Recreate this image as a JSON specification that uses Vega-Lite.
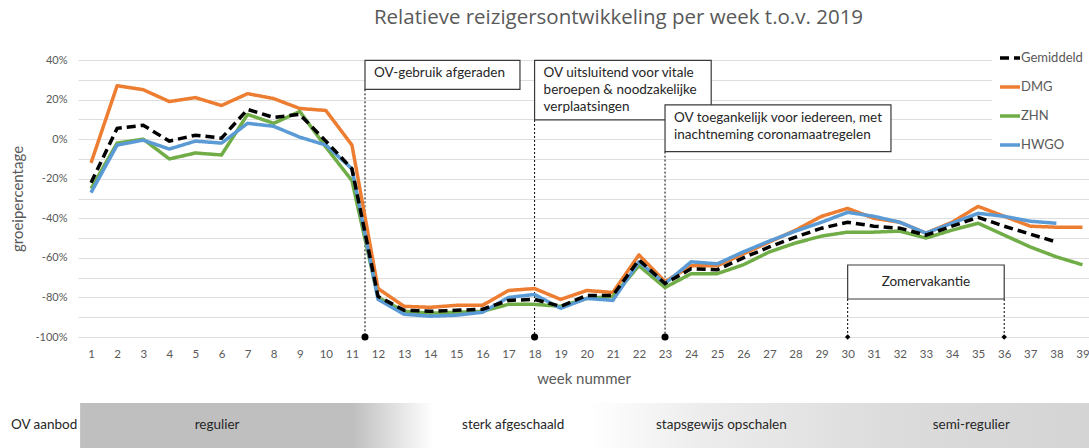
{
  "$schema": "https://vega.github.io/schema/vega-lite/v6.json",
  "width": 1011,
  "height": 277,
  "autosize": {"type": "none"},
  "padding": {"left": 78, "top": 60, "right": 0, "bottom": 111},
  "background": "white",
  "title": {"text": "Relatieve reizigersontwikkeling per week t.o.v. 2019", "font": "Open Sans", "fontSize": 20.5, "fontWeight": "normal", "color": "#595959", "anchor": "middle", "dx": 35, "offset": 12, "frame": "group"},
  "config": {
    "view": {"stroke": null},
    "font": "Lato",
    "axis": {"domain": false, "ticks": false, "labelFont": "Lato", "labelColor": "#595959", "titleFont": "Lato", "titleFontSize": 15, "titleFontWeight": "normal", "titleColor": "#595959"},
    "axisX": {"grid": false, "labelFontSize": 11.5, "labelPadding": 11, "titlePadding": 12, "labelFlush": false, "labelOverlap": false, "labelBound": false},
    "axisY": {"grid": true, "gridColor": "#dedede", "gridWidth": 1, "labelFontSize": 11, "labelPadding": 11, "titlePadding": 9, "labelOverlap": false}
  },
  "datasets": {
    "reeks": [
      {"week": 1, "Gemiddeld": -22, "DMG": -12, "ZHN": -25, "HWGO": -27},
      {"week": 2, "Gemiddeld": 5.5, "DMG": 27, "ZHN": -2, "HWGO": -3},
      {"week": 3, "Gemiddeld": 7, "DMG": 25, "ZHN": 0, "HWGO": -0.5},
      {"week": 4, "Gemiddeld": -1, "DMG": 19, "ZHN": -10, "HWGO": -5},
      {"week": 5, "Gemiddeld": 2, "DMG": 21, "ZHN": -7, "HWGO": -1},
      {"week": 6, "Gemiddeld": 0.5, "DMG": 17, "ZHN": -8, "HWGO": -2},
      {"week": 7, "Gemiddeld": 15, "DMG": 23, "ZHN": 12.5, "HWGO": 8},
      {"week": 8, "Gemiddeld": 11, "DMG": 20.5, "ZHN": 8, "HWGO": 6.5},
      {"week": 9, "Gemiddeld": 12.5, "DMG": 15.5, "ZHN": 14, "HWGO": 1},
      {"week": 10, "Gemiddeld": -1, "DMG": 14.5, "ZHN": -4, "HWGO": -3},
      {"week": 11, "Gemiddeld": -15, "DMG": -3, "ZHN": -21, "HWGO": -15},
      {"week": 12, "Gemiddeld": -79.5, "DMG": -75.5, "ZHN": -80, "HWGO": -81},
      {"week": 13, "Gemiddeld": -86.5, "DMG": -84.5, "ZHN": -87, "HWGO": -88.5},
      {"week": 14, "Gemiddeld": -87, "DMG": -85, "ZHN": -88, "HWGO": -89.5},
      {"week": 15, "Gemiddeld": -86.5, "DMG": -84, "ZHN": -87.5, "HWGO": -89},
      {"week": 16, "Gemiddeld": -86, "DMG": -84, "ZHN": -87, "HWGO": -87.5},
      {"week": 17, "Gemiddeld": -81.5, "DMG": -76.5, "ZHN": -83.5, "HWGO": -80},
      {"week": 18, "Gemiddeld": -81, "DMG": -75.5, "ZHN": -83.5, "HWGO": -78.5},
      {"week": 19, "Gemiddeld": -84.5, "DMG": -81, "ZHN": -84.5, "HWGO": -85.5},
      {"week": 20, "Gemiddeld": -79, "DMG": -76.5, "ZHN": -80.5, "HWGO": -80.5},
      {"week": 21, "Gemiddeld": -79, "DMG": -77.5, "ZHN": -79.5, "HWGO": -81.5},
      {"week": 22, "Gemiddeld": -61, "DMG": -58.5, "ZHN": -64, "HWGO": -62},
      {"week": 23, "Gemiddeld": -73, "DMG": -72, "ZHN": -75, "HWGO": -73},
      {"week": 24, "Gemiddeld": -65.5, "DMG": -64, "ZHN": -68, "HWGO": -62},
      {"week": 25, "Gemiddeld": -66, "DMG": -64, "ZHN": -68, "HWGO": -63},
      {"week": 26, "Gemiddeld": -60, "DMG": -58, "ZHN": -63.5, "HWGO": -57},
      {"week": 27, "Gemiddeld": -54.5, "DMG": -52, "ZHN": -57, "HWGO": -51.5},
      {"week": 28, "Gemiddeld": -49.5, "DMG": -46, "ZHN": -52.5, "HWGO": -46.5},
      {"week": 29, "Gemiddeld": -45, "DMG": -39, "ZHN": -49, "HWGO": -42},
      {"week": 30, "Gemiddeld": -42, "DMG": -35, "ZHN": -47, "HWGO": -37},
      {"week": 31, "Gemiddeld": -44, "DMG": -40, "ZHN": -47, "HWGO": -39},
      {"week": 32, "Gemiddeld": -45, "DMG": -42, "ZHN": -46.5, "HWGO": -42},
      {"week": 33, "Gemiddeld": -48.5, "DMG": -47.5, "ZHN": -50, "HWGO": -47.5},
      {"week": 34, "Gemiddeld": -44, "DMG": -42, "ZHN": -46, "HWGO": -42.5},
      {"week": 35, "Gemiddeld": -39.5, "DMG": -34, "ZHN": -42.5, "HWGO": -37.5},
      {"week": 36, "Gemiddeld": -44, "DMG": -39, "ZHN": -48.5, "HWGO": -39},
      {"week": 37, "Gemiddeld": -48, "DMG": -44, "ZHN": -54.5, "HWGO": -41.5},
      {"week": 38, "Gemiddeld": -52, "DMG": -44.5, "ZHN": -59.5, "HWGO": -42.5},
      {"week": 39, "DMG": -44.5, "ZHN": -63.5}
    ],
    "kaders": [
      {"x1": 11.5, "x2": 17.44, "y1": 39.8, "y2": 25.2, "tekst": "OV-gebruik afgeraden"},
      {"x1": 18, "x2": 24.77, "y1": 39.8, "y2": 9.7, "tekst": "OV uitsluitend voor vitale\nberoepen & noodzakelijke\nverplaatsingen"},
      {"x1": 23, "x2": 31.66, "y1": 17.3, "y2": -6.3, "tekst": "OV toegankelijk voor iedereen, met\ninachtneming coronamaatregelen"}
    ],
    "vakantie": [
      {"x1": 30, "x2": 36, "y1": -63.6, "y2": -80.8, "midden": 33, "ymid": -72.2, "tekst": "Zomervakantie"}
    ],
    "markeringen": [
      {"week": 11.5, "top": 25.2, "soort": "maatregel"},
      {"week": 18, "top": 9.7, "soort": "maatregel"},
      {"week": 23, "top": -6.3, "soort": "maatregel"},
      {"week": 30, "top": -80.8, "soort": "vakantie"},
      {"week": 36, "top": -80.8, "soort": "vakantie"}
    ],
    "band": [
      {"x1": 0.58, "x2": 39.25, "y1": -133.3, "y2": -157}
    ],
    "fasen": [
      {"week": 5.83, "fase": "regulier"},
      {"week": 17.18, "fase": "sterk afgeschaald"},
      {"week": 25.16, "fase": "stapsgewijs opschalen"},
      {"week": 34.74, "fase": "semi-regulier"}
    ],
    "rij": [
      {"week": -2.07, "label": "OV aanbod"}
    ]
  },
  "layer": [
    {
      "data": {"name": "band"},
      "mark": {"type": "rect", "fill": {"gradient": "linear", "x1": 0, "y1": 0, "x2": 1, "y2": 0, "stops": [
        {"offset": 0, "color": "#bfbfbf"},
        {"offset": 0.27, "color": "#bfbfbf"},
        {"offset": 0.35, "color": "#ffffff"},
        {"offset": 0.505, "color": "#ffffff"},
        {"offset": 0.62, "color": "#ececec"},
        {"offset": 0.8, "color": "#dcdcdc"},
        {"offset": 1, "color": "#d4d4d4"}
      ]}},
      "encoding": {
        "x": {"field": "x1", "type": "quantitative", "title": "week nummer", "scale": {"domain": [0.5, 39.25], "nice": false, "zero": false},
          "axis": {"values": [1,2,3,4,5,6,7,8,9,10,11,12,13,14,15,16,17,18,19,20,21,22,23,24,25,26,27,28,29,30,31,32,33,34,35,36,37,38,39], "format": "d"}},
        "x2": {"field": "x2"},
        "y": {"field": "y1", "type": "quantitative", "title": "groeipercentage", "scale": {"domain": [-100, 40], "nice": false, "zero": false},
          "axis": {"values": [-100,-90,-80,-70,-60,-50,-40,-30,-20,-10,0,10,20,30,40], "labelExpr": "datum.value % 20 === 0 ? datum.value + '%' : ''"}},
        "y2": {"field": "y2"}
      }
    },
    {
      "data": {"name": "rij"},
      "mark": {"type": "text", "align": "left", "baseline": "middle", "font": "Lato", "fontSize": 13.5, "color": "#262626"},
      "encoding": {
        "x": {"field": "week", "type": "quantitative", "title": "week nummer",
          "axis": {"values": [1,2,3,4,5,6,7,8,9,10,11,12,13,14,15,16,17,18,19,20,21,22,23,24,25,26,27,28,29,30,31,32,33,34,35,36,37,38,39], "format": "d"}},
        "y": {"datum": -144.4, "type": "quantitative", "title": "groeipercentage",
          "axis": {"values": [-100,-90,-80,-70,-60,-50,-40,-30,-20,-10,0,10,20,30,40], "labelExpr": "datum.value % 20 === 0 ? datum.value + '%' : ''"}},
        "text": {"field": "label"}
      }
    },
    {
      "data": {"name": "fasen"},
      "mark": {"type": "text", "align": "center", "baseline": "middle", "font": "Lato", "fontSize": 13.5, "color": "#262626"},
      "encoding": {
        "x": {"field": "week", "type": "quantitative", "title": "week nummer",
          "axis": {"values": [1,2,3,4,5,6,7,8,9,10,11,12,13,14,15,16,17,18,19,20,21,22,23,24,25,26,27,28,29,30,31,32,33,34,35,36,37,38,39], "format": "d"}},
        "y": {"datum": -144.4, "type": "quantitative", "title": "groeipercentage",
          "axis": {"values": [-100,-90,-80,-70,-60,-50,-40,-30,-20,-10,0,10,20,30,40], "labelExpr": "datum.value % 20 === 0 ? datum.value + '%' : ''"}},
        "text": {"field": "fase"}
      }
    },
    {
      "data": {"name": "markeringen"},
      "mark": {"type": "rule", "color": "#000000", "strokeWidth": 1, "strokeDash": [2, 2]},
      "encoding": {
        "x": {"field": "week", "type": "quantitative", "title": "week nummer",
          "axis": {"values": [1,2,3,4,5,6,7,8,9,10,11,12,13,14,15,16,17,18,19,20,21,22,23,24,25,26,27,28,29,30,31,32,33,34,35,36,37,38,39], "format": "d"}},
        "y": {"field": "top", "type": "quantitative", "title": "groeipercentage",
          "axis": {"values": [-100,-90,-80,-70,-60,-50,-40,-30,-20,-10,0,10,20,30,40], "labelExpr": "datum.value % 20 === 0 ? datum.value + '%' : ''"}},
        "y2": {"datum": -100}
      }
    },
    {
      "data": {"name": "markeringen"},
      "transform": [{"filter": "datum.soort === 'maatregel'"}],
      "mark": {"type": "point", "shape": "circle", "filled": true, "color": "#000000", "size": 50, "opacity": 1},
      "encoding": {
        "x": {"field": "week", "type": "quantitative", "title": "week nummer",
          "axis": {"values": [1,2,3,4,5,6,7,8,9,10,11,12,13,14,15,16,17,18,19,20,21,22,23,24,25,26,27,28,29,30,31,32,33,34,35,36,37,38,39], "format": "d"}},
        "y": {"datum": -100, "type": "quantitative", "title": "groeipercentage",
          "axis": {"values": [-100,-90,-80,-70,-60,-50,-40,-30,-20,-10,0,10,20,30,40], "labelExpr": "datum.value % 20 === 0 ? datum.value + '%' : ''"}}
      }
    },
    {
      "data": {"name": "markeringen"},
      "transform": [{"filter": "datum.soort === 'vakantie'"}],
      "mark": {"type": "point", "shape": "diamond", "filled": true, "color": "#000000", "size": 30, "opacity": 1},
      "encoding": {
        "x": {"field": "week", "type": "quantitative", "title": "week nummer",
          "axis": {"values": [1,2,3,4,5,6,7,8,9,10,11,12,13,14,15,16,17,18,19,20,21,22,23,24,25,26,27,28,29,30,31,32,33,34,35,36,37,38,39], "format": "d"}},
        "y": {"datum": -100, "type": "quantitative", "title": "groeipercentage",
          "axis": {"values": [-100,-90,-80,-70,-60,-50,-40,-30,-20,-10,0,10,20,30,40], "labelExpr": "datum.value % 20 === 0 ? datum.value + '%' : ''"}}
      }
    },
    {
      "data": {"name": "kaders"},
      "mark": {"type": "rect", "fill": "white", "stroke": "#3a3a3a", "strokeWidth": 1.2},
      "encoding": {
        "x": {"field": "x1", "type": "quantitative", "title": "week nummer",
          "axis": {"values": [1,2,3,4,5,6,7,8,9,10,11,12,13,14,15,16,17,18,19,20,21,22,23,24,25,26,27,28,29,30,31,32,33,34,35,36,37,38,39], "format": "d"}},
        "x2": {"field": "x2"},
        "y": {"field": "y1", "type": "quantitative", "title": "groeipercentage",
          "axis": {"values": [-100,-90,-80,-70,-60,-50,-40,-30,-20,-10,0,10,20,30,40], "labelExpr": "datum.value % 20 === 0 ? datum.value + '%' : ''"}},
        "y2": {"field": "y2"}
      }
    },
    {
      "data": {"name": "kaders"},
      "mark": {"type": "text", "align": "left", "baseline": "top", "dx": 9, "dy": 6, "lineBreak": "\n", "lineHeight": 17, "font": "Lato", "fontSize": 13.5, "color": "#262626"},
      "encoding": {
        "x": {"field": "x1", "type": "quantitative", "title": "week nummer",
          "axis": {"values": [1,2,3,4,5,6,7,8,9,10,11,12,13,14,15,16,17,18,19,20,21,22,23,24,25,26,27,28,29,30,31,32,33,34,35,36,37,38,39], "format": "d"}},
        "y": {"field": "y1", "type": "quantitative", "title": "groeipercentage",
          "axis": {"values": [-100,-90,-80,-70,-60,-50,-40,-30,-20,-10,0,10,20,30,40], "labelExpr": "datum.value % 20 === 0 ? datum.value + '%' : ''"}},
        "text": {"field": "tekst"}
      }
    },
    {
      "data": {"name": "vakantie"},
      "mark": {"type": "rect", "fill": "white", "stroke": "#3a3a3a", "strokeWidth": 1.2},
      "encoding": {
        "x": {"field": "x1", "type": "quantitative", "title": "week nummer",
          "axis": {"values": [1,2,3,4,5,6,7,8,9,10,11,12,13,14,15,16,17,18,19,20,21,22,23,24,25,26,27,28,29,30,31,32,33,34,35,36,37,38,39], "format": "d"}},
        "x2": {"field": "x2"},
        "y": {"field": "y1", "type": "quantitative", "title": "groeipercentage",
          "axis": {"values": [-100,-90,-80,-70,-60,-50,-40,-30,-20,-10,0,10,20,30,40], "labelExpr": "datum.value % 20 === 0 ? datum.value + '%' : ''"}},
        "y2": {"field": "y2"}
      }
    },
    {
      "data": {"name": "vakantie"},
      "mark": {"type": "text", "align": "center", "baseline": "middle", "font": "Lato", "fontSize": 13.5, "color": "#262626"},
      "encoding": {
        "x": {"field": "midden", "type": "quantitative", "title": "week nummer",
          "axis": {"values": [1,2,3,4,5,6,7,8,9,10,11,12,13,14,15,16,17,18,19,20,21,22,23,24,25,26,27,28,29,30,31,32,33,34,35,36,37,38,39], "format": "d"}},
        "y": {"field": "ymid", "type": "quantitative", "title": "groeipercentage",
          "axis": {"values": [-100,-90,-80,-70,-60,-50,-40,-30,-20,-10,0,10,20,30,40], "labelExpr": "datum.value % 20 === 0 ? datum.value + '%' : ''"}},
        "text": {"field": "tekst"}
      }
    },
    {
      "data": {"name": "reeks"},
      "transform": [
        {"fold": ["Gemiddeld", "DMG", "ZHN", "HWGO"], "as": ["serie", "pct"]},
        {"filter": "isValid(datum.pct) && datum.serie !== 'Gemiddeld'"}
      ],
      "mark": {"type": "line", "strokeWidth": 3.5, "strokeJoin": "round"},
      "encoding": {
        "x": {"field": "week", "type": "quantitative", "title": "week nummer",
          "axis": {"values": [1,2,3,4,5,6,7,8,9,10,11,12,13,14,15,16,17,18,19,20,21,22,23,24,25,26,27,28,29,30,31,32,33,34,35,36,37,38,39], "format": "d"}},
        "y": {"field": "pct", "type": "quantitative", "title": "groeipercentage",
          "axis": {"values": [-100,-90,-80,-70,-60,-50,-40,-30,-20,-10,0,10,20,30,40], "labelExpr": "datum.value % 20 === 0 ? datum.value + '%' : ''"}},
        "color": {"field": "serie", "type": "nominal",
          "scale": {"domain": ["Gemiddeld", "DMG", "ZHN", "HWGO"], "range": ["#000000", "#ED7D31", "#70AD47", "#5B9BD5"]},
          "legend": {"title": null, "orient": "none", "legendX": 914, "legendY": -20, "symbolType": "stroke", "symbolSize": 400, "symbolStrokeWidth": 3.5,
            "labelFont": "Lato", "labelFontSize": 13, "labelColor": "#595959", "rowPadding": 10, "labelOffset": -1, "fillColor": "white", "padding": 6}},
        "strokeDash": {"field": "serie", "type": "nominal",
          "scale": {"domain": ["Gemiddeld", "DMG", "ZHN", "HWGO"], "range": [[9, 5], [1, 0], [1, 0], [1, 0]]},
          "legend": {"title": null, "orient": "none", "legendX": 914, "legendY": -20, "symbolType": "stroke", "symbolSize": 400, "symbolStrokeWidth": 3.5,
            "labelFont": "Lato", "labelFontSize": 13, "labelColor": "#595959", "rowPadding": 10, "labelOffset": -1, "fillColor": "white", "padding": 6}}
      }
    },
    {
      "data": {"name": "reeks"},
      "transform": [
        {"fold": ["Gemiddeld", "DMG", "ZHN", "HWGO"], "as": ["serie", "pct"]},
        {"filter": "isValid(datum.pct) && datum.serie === 'Gemiddeld'"}
      ],
      "mark": {"type": "line", "strokeWidth": 3.5},
      "encoding": {
        "x": {"field": "week", "type": "quantitative", "title": "week nummer",
          "axis": {"values": [1,2,3,4,5,6,7,8,9,10,11,12,13,14,15,16,17,18,19,20,21,22,23,24,25,26,27,28,29,30,31,32,33,34,35,36,37,38,39], "format": "d"}},
        "y": {"field": "pct", "type": "quantitative", "title": "groeipercentage",
          "axis": {"values": [-100,-90,-80,-70,-60,-50,-40,-30,-20,-10,0,10,20,30,40], "labelExpr": "datum.value % 20 === 0 ? datum.value + '%' : ''"}},
        "color": {"field": "serie", "type": "nominal"},
        "strokeDash": {"field": "serie", "type": "nominal"}
      }
    }
  ]
}
